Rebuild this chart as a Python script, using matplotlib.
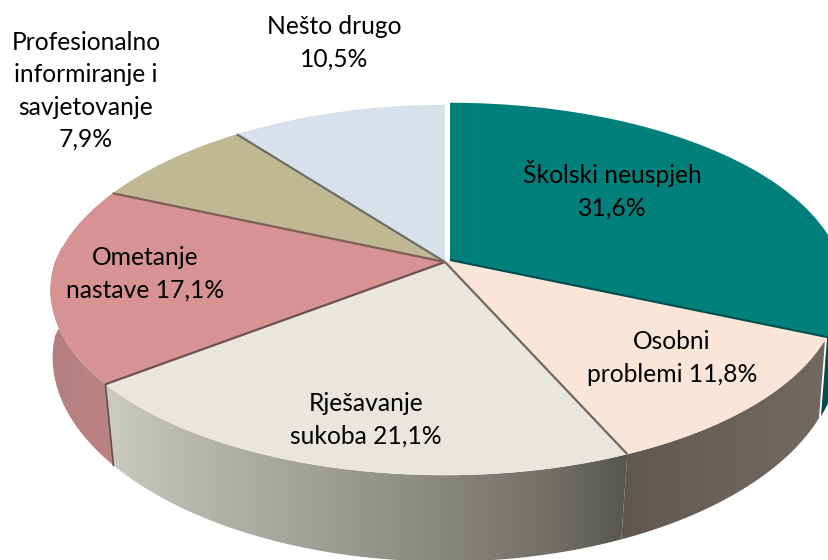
import numpy as np
import matplotlib as mp
mp.use("Agg")
import matplotlib.pyplot as plot
from matplotlib.colors import LinearSegmentedColormap
from matplotlib.transforms import Transform, Affine2D

# slices, clockwise from 12 o'clock
categories = ["Školski neuspjeh", "Osobni\nproblemi", "Rješavanje\nsukoba", "Ometanje\nnastave",
              "Profesionalno\ninformiranje i\nsavjetovanje", "Nešto drugo"]
values = [31.6, 11.8, 21.1, 17.1, 7.9, 10.5]
separators = ["\n", " ", " ", " ", "\n", "\n"]

colors = ["#007f7b", "#fae6d8", "#e8e6de", "#d79393", "#bfb892", "#d7e1ec"]
label_pos = [(612, 190), (672, 358), (366, 420), (145, 274), (86, 91), (334, 43)]

# perspective of the top face, in pixels
cx, cy = 445, 262
rx, ry = 390, 181
k = 0.151
lean = 11
teal_shift = (5, -2)

# lower rim of the wall
cy2 = 336
sy = 1.058
bulge = 16.5

plot.rcParams["font.family"] = ["Lato", "DejaVu Sans"]


def project(u, v):
    w = 1 + k*v
    x = cx + rx*u/w + lean*np.clip(v, 0, None)*np.clip(-u, 0, None)
    return x, cy - ry*v/w


class Tilt(Transform):
    input_dims = 2
    output_dims = 2
    has_inverse = False

    def transform_non_affine(self, pts):
        pts = np.asarray(pts)
        return np.column_stack(project(pts[:, 0], pts[:, 1]))


def top_rim(th):
    t = np.radians(th)
    return project(np.cos(t), np.sin(t))


def low_rim(th):
    x, y = top_rim(th)
    t = np.radians(th)
    return x - bulge*np.cos(t)*abs(np.sin(t)), cy2 + sy*(y - cy)


def wall(ax, th1, th2, stops, x0, x1, shift=(0, 0)):
    th = np.linspace(th1, th2, 120)
    xa, ya = top_rim(th)
    xb, yb = low_rim(th)
    px = np.r_[xa, xb[::-1]] + shift[0]
    py = np.r_[ya, yb[::-1]] + shift[1]
    poly = ax.fill(px, py, color="none", lw=0)[0]
    cmap = LinearSegmentedColormap.from_list("w", stops)
    im = ax.imshow(np.linspace(0, 1, 256).reshape(1, -1), cmap=cmap, aspect="auto",
                   extent=(x0, x1, 560, 0), zorder=1, interpolation="bilinear")
    im.set_clip_path(poly)


fig = plot.figure(figsize=(8.29, 5.6), dpi=100)
ax = fig.add_axes([0, 0, 1, 1])

wedges, _ = ax.pie(values, colors=colors, startangle=90, counterclock=False, radius=1)
ax.set_aspect("auto")
ax.set_xlim(0, 829)
ax.set_ylim(560, 0)
ax.axis("off")

# slice boundaries, in degrees, from the values
fr = np.cumsum([0] + values)/np.sum(values)
angle = 90 - 360*fr

tilt = Tilt()
for i, w in enumerate(wedges):
    tr = tilt
    if i == 0:
        tr = tilt + Affine2D().translate(*teal_shift)
    w.set_transform(tr + ax.transData)
    w.set_linewidth(0)
    w.set_zorder(3)

# side walls
wall(ax, angle[1], angle[1] + 3.5, ["#003f40", "#00595a"], 800, 840, shift=(2, -2))
wall(ax, angle[2], angle[1], ["#5f5851", "#6a625a", "#726a61"], 620, 830)
wall(ax, angle[3], angle[2],
     [(0, "#cbcbc3"), (0.15, "#b9b9af"), (0.6, "#8d8c84"), (0.85, "#716f68"), (1, "#575550")], 105, 630)
wall(ax, angle[3], -185, ["#b57f7f", "#bd8383"], 50, 115)

# seam between the teal slice and the one below it
xe, ye = top_rim(np.array([angle[1]]))
ax.plot([cx + 3, xe[0]], [cy + 2, ye[0]], color=colors[1], lw=4.5, zorder=2.5, solid_capstyle="butt")
ax.plot([cx + teal_shift[0], xe[0] + teal_shift[0]], [cy + teal_shift[1], ye[0] + teal_shift[1]],
        color="#004f4c", lw=1.5, zorder=4, solid_capstyle="butt")

# spokes
spoke_colors = {2: "#6f675c", 3: "#6e5050", 4: "#7d5f58", 5: "#6f6e66"}
for i, c in spoke_colors.items():
    xe, ye = top_rim(np.array([angle[i]]))
    ax.plot([cx, xe[0]], [cy, ye[0]], color=c, lw=1.6, zorder=4, solid_capstyle="butt")

# dark edge where the pink wall meets the grey one
xa, ya = top_rim(np.array([angle[3]]))
xb, yb = low_rim(np.array([angle[3]]))
ax.plot([xa[0], xb[0]], [ya[0], yb[0]], color="#5f5050", lw=1.2, zorder=4)

for cat, sep, v, (tx, ty) in zip(categories, separators, values, label_pos):
    txt = cat + sep + str(v).replace(".", ",") + "%"
    ax.text(tx, ty, txt, ha="center", va="center", fontsize=17.7, color="black",
            linespacing=1.48, zorder=5)

plot.savefig("out.png", dpi=100)
